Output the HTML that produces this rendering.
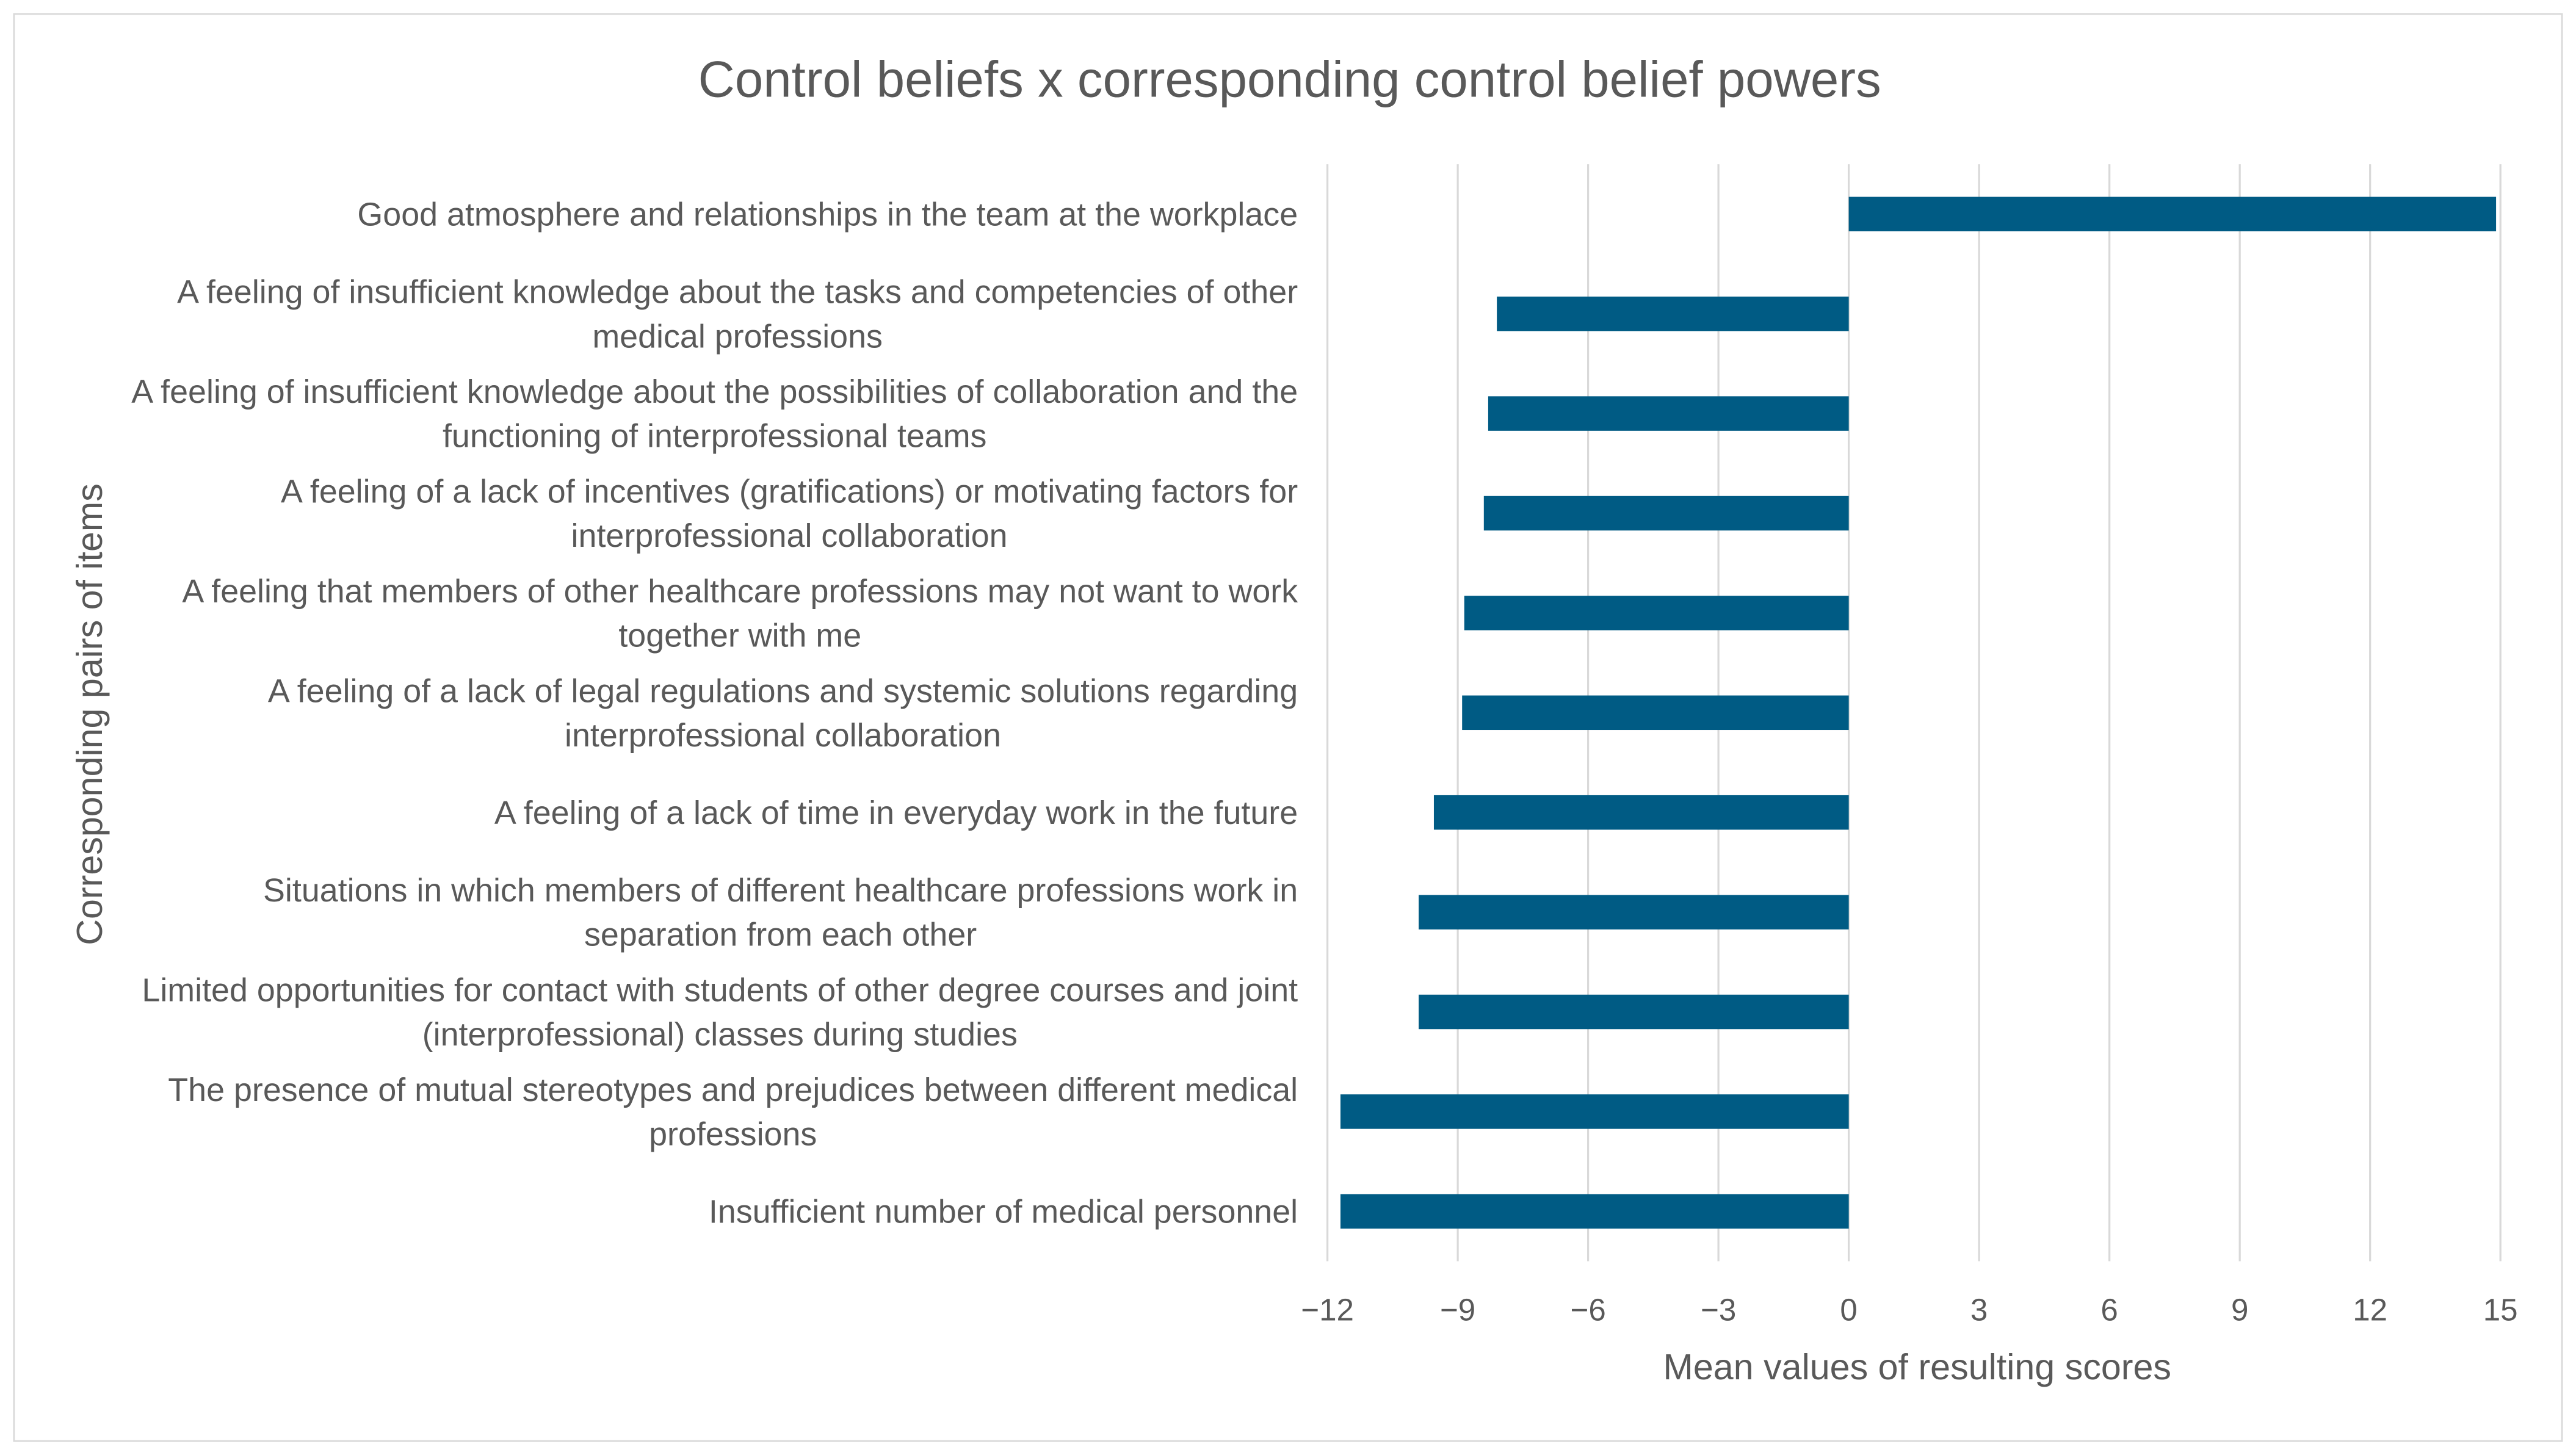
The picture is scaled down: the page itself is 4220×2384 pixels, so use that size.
<!DOCTYPE html>
<html><head><meta charset="utf-8"><style>
html,body{margin:0;padding:0;background:#fff;}
svg{display:block;}
text{font-family:"Liberation Sans",sans-serif;fill:#595959;}
</style></head><body>
<svg id="chart" width="4220" height="2384" viewBox="0 0 1568 886" preserveAspectRatio="none" xmlns="http://www.w3.org/2000/svg">
<rect x="8.5" y="8.5" width="1551" height="869" fill="#fff" stroke="#d9d9d9" stroke-width="1"/>
<text x="785" y="59" font-size="31" text-anchor="middle">Control beliefs x corresponding control belief powers</text>
<g id="grid"></g>
<g id="bars"></g>
<g id="cats"></g>
<g id="ticks"></g>
<text x="1167" y="840" font-size="22" text-anchor="middle">Mean values of resulting scores</text>
<text transform="translate(62,435) rotate(-90)" font-size="22" text-anchor="middle">Corresponding pairs of items</text>
</svg>
<script>
const categories = [
 ["Good atmosphere and relationships in the team at the workplace"],
 ["A feeling of insufficient knowledge about the tasks and competencies of other","medical professions"],
 ["A feeling of insufficient knowledge about the possibilities of collaboration and the","functioning of interprofessional teams"],
 ["A feeling of a lack of incentives (gratifications) or motivating factors for","interprofessional collaboration"],
 ["A feeling that members of other healthcare professions may not want to work","together with me"],
 ["A feeling of a lack of legal regulations and systemic solutions regarding","interprofessional collaboration"],
 ["A feeling of a lack of time in everyday work in the future"],
 ["Situations in which members of different healthcare professions work in","separation from each other"],
 ["Limited opportunities for contact with students of other degree courses and joint","(interprofessional) classes during studies"],
 ["The presence of mutual stereotypes and prejudices between different medical","professions"],
 ["Insufficient number of medical personnel"]
];
const values = [14.9, -8.1, -8.3, -8.4, -8.85, -8.9, -9.55, -9.9, -9.9, -11.7, -11.7];
const ticks = [-12, -9, -6, -3, 0, 3, 6, 9, 12, 15];
const tickLabels = ["\u221212","\u22129","\u22126","\u22123","0","3","6","9","12","15"];
const NS="http://www.w3.org/2000/svg";
const xMin=-12,xMax=15,px0=808,px1=1522,yTop=100,yBot=768;
const x=v=>px0+(v-xMin)/(xMax-xMin)*(px1-px0);
const band=(yBot-yTop)/categories.length;
const y=i=>yTop+band*(i+0.5);
function mk(tag,attrs,parent){const e=document.createElementNS(NS,tag);for(const k in attrs)e.setAttribute(k,attrs[k]);parent.appendChild(e);return e;}
const grid=document.getElementById('grid'),bars=document.getElementById('bars'),cats=document.getElementById('cats'),tk=document.getElementById('ticks');
ticks.forEach((t,i)=>{
 const l=mk('line',{x1:x(t),x2:x(t),y1:yTop,y2:yBot,stroke:'#d9d9d9','stroke-width':1.2},grid);
 
 
 const tx=mk('text',{x:x(t),y:804,'font-size':19,'text-anchor':'middle'},tk);
 tx.textContent=tickLabels[i];
 
 
});
values.forEach((v,i)=>{
 const r=mk('rect',{x:Math.min(x(0),x(v)),y:y(i)-10.5,width:Math.abs(x(v)-x(0)),height:21,fill:'#005b84'},bars);
 
 
});
categories.forEach((lines,i)=>{
 const t=mk('text',{'font-size':20,'text-anchor':'middle'},cats);
 
 
 const n=lines.length;
 const spans=lines.map((ln,j)=>{
  const s=mk('tspan',{x:790,y:y(i)+7+(j-(n-1)/2)*27},t);
  s.textContent=ln;
  return s;
 });
 let w=0;
 spans.forEach(s=>{w=Math.max(w,s.getComputedTextLength());});
 spans.forEach(s=>s.setAttribute('x',790-w/2));
});
</script>
</body></html>
